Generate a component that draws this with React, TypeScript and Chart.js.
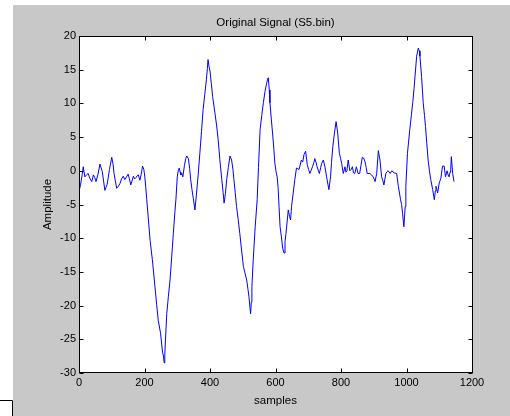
import React, { useEffect, useRef } from "react";
import { Chart, registerables } from "chart.js";

Chart.register(...registerables);

const titleText = "Original Signal (S5.bin)";
const xLabel = "samples";
const yLabel = "Amplitude";

const xMin = 0;
const xMax = 1200;
const xStep = 200;
const yMin = -30;
const yMax = 20;
const yStep = 5;

// sample index
const sampleIdx = [
  0, 5, 10, 13, 18, 23, 28, 33, 39, 44, 48, 52, 58, 64, 71, 75, 79, 86, 93, 100,
  104, 107, 111, 115, 120, 125, 130, 135, 140, 145, 150, 154, 158, 162, 166, 170, 174, 178, 181, 186,
  190, 194, 198, 201, 204, 207, 212, 217, 224, 232, 237, 242, 249, 255, 258, 260, 262, 264, 268, 273,
  278, 283, 288, 293, 296, 300, 303, 306, 309, 311, 314, 317, 322, 326, 329, 334, 338, 341, 345, 349,
  354, 359, 364, 369, 374, 379, 384, 389, 392, 394, 397, 400, 404, 408, 415, 420, 425, 430, 436, 440,
  443, 447, 451, 456, 461, 466, 470, 473, 477, 481, 486, 491, 496, 502, 507, 512, 516, 519, 522, 524,
  526, 528, 532, 538, 544, 548, 553, 558, 563, 568, 573, 576, 578, 581, 583, 587, 591, 595, 598, 602,
  605, 608, 611, 614, 618, 622, 626, 629, 632, 636, 639, 643, 646, 649, 654, 659, 664, 668, 672, 679,
  683, 687, 692, 697, 701, 705, 709, 713, 717, 720, 724, 727, 731, 734, 738, 741, 746, 751, 756, 760,
  763, 768, 771, 775, 780, 785, 790, 795, 799, 802, 807, 812, 815, 818, 822, 827, 831, 835, 838, 842,
  847, 852, 857, 861, 865, 869, 873, 877, 880, 888, 893, 898, 901, 904, 909, 914, 919, 924, 928, 931,
  937, 941, 944, 950, 955, 962, 970, 975, 982, 985, 988, 992, 996, 998, 1003, 1010, 1015, 1019, 1023, 1026,
  1031, 1036, 1039, 1041, 1046, 1051, 1055, 1058, 1062, 1066, 1070, 1074, 1080, 1085, 1088, 1090, 1093, 1095, 1100, 1105,
  1110, 1115, 1119, 1122, 1124, 1127, 1130, 1133, 1135, 1137, 1141, 1145,
];

// amplitude
const amplitude = [
  -3.1, -2.0, -0.5, 0.6, -0.9, -0.6, -0.4, -1.1, -1.6, -0.6, -1.0, -1.6, -0.5, 1.0, -0.1, -1.5, -2.9, -2.0, 0.2, 2.0,
  1.0, -0.4, -1.5, -2.6, -2.3, -1.9, -1.2, -0.8, -1.3, -0.9, -0.5, -1.2, -2.1, -1.5, -0.8, -1.2, -1.0, -0.7, -0.6, -1.4,
  -0.5, 0.7, 0.2, -0.9, -2.5, -4.3, -7.3, -10.3, -13.2, -17.2, -19.8, -22.2, -24.1, -26.9, -27.5, -28.5, -27.3, -25.1, -21.2, -18.6,
  -16.2, -12.8, -9.3, -6.0, -4.2, -0.9, 0.0, 0.4, -0.2, -0.6, -0.4, -0.9, 0.8, 1.8, 2.2, 1.8, 0.3, -1.3, -2.8, -4.1,
  -5.8, -3.3, -0.5, 2.6, 5.8, 9.1, 11.3, 13.5, 15.2, 16.5, 15.5, 14.8, 13.0, 11.0, 8.6, 6.8, 4.6, 1.7, -1.3, -3.2,
  -4.8, -3.4, -1.3, 0.5, 2.2, 1.6, 0.2, -1.3, -3.2, -5.3, -7.2, -9.3, -11.6, -14.2, -15.2, -16.2, -17.6, -18.7, -20.3, -21.2,
  -19.5, -17.2, -13.2, -8.3, -4.3, 0.5, 6.1, 8.2, 10.1, 11.8, 13.0, 13.6, 13.8, 12.0, 10.1, 7.8, 5.6, 3.2, 1.1, -0.2,
  -0.9, -2.5, -5.5, -8.3, -9.8, -11.5, -12.2, -10.5, -9.3, -7.3, -5.8, -6.8, -7.3, -5.3, -3.3, -1.3, 0.4, 0.3, 0.2, 1.6,
  1.3, 2.4, 2.9, 0.9, 0.2, -0.4, 0.1, 0.6, 1.2, 1.8, 1.2, 0.6, 0.0, -0.4, 0.5, 1.1, 1.6, 0.6, -0.9, -2.0,
  -2.8, -0.9, 1.2, 3.6, 5.6, 7.3, 5.6, 2.6, 1.8, 1.1, -0.4, 0.6, -0.2, 0.0, 1.6, 0.0, 0.2, 0.6, -0.3, -0.4,
  0.6, -0.4, -0.4, 0.8, 2.0, 1.9, 1.4, 0.5, -0.4, -0.4, -0.6, -0.9, -1.2, -1.6, -0.4, 3.0, 1.6, -0.9, -1.5, -2.1,
  -0.4, -0.1, 0.0, -0.4, 0.0, -0.3, -0.4, -2.3, -4.3, -5.0, -6.3, -8.3, -5.3, -2.3, 2.6, 6.1, 8.3, 10.1, 12.2, 14.0,
  17.0, 18.2, 17.8, 17.0, 14.0, 10.1, 8.2, 6.6, 4.0, 1.6, 0.0, -1.3, -2.8, -4.3, -3.0, -2.3, -2.8, -3.3, -1.8, -1.1,
  0.7, 0.7, -0.9, -0.3, 0.0, -0.6, -0.9, -0.2, 0.2, 2.1, -0.4, -1.6,
];

const FONT_FAMILY = "'Liberation Sans', Arial, Helvetica, sans-serif";
const FIG_GRAY = "#c8c8c8";
const TEXT = "#000000";
const LINE_BLUE = "#0000ff";

const matlabPlugin = {
  id: "matlabFrame",
  beforeDraw(chart: any) {
    const { ctx, width, height, chartArea } = chart;
    ctx.save();
    ctx.fillStyle = "#ffffff";
    ctx.fillRect(0, 0, width, height);
    ctx.fillStyle = FIG_GRAY;
    ctx.fillRect(13, 5, width - 13, height - 5);
    ctx.fillStyle = "#ffffff";
    ctx.fillRect(chartArea.left, chartArea.top, chartArea.right - chartArea.left, chartArea.bottom - chartArea.top);
    ctx.strokeStyle = "#000000";
    ctx.lineWidth = 1;
    ctx.beginPath();
    ctx.moveTo(0, 400.5);
    ctx.lineTo(12.5, 400.5);
    ctx.lineTo(12.5, height);
    ctx.stroke();
    ctx.restore();
  },
  afterDatasetsDraw(chart: any) {
    const { ctx, chartArea, scales } = chart;
    const l = Math.round(chartArea.left) + 0.5;
    const r = Math.round(chartArea.right) + 0.5;
    const t = Math.round(chartArea.top) + 0.5;
    const b = Math.round(chartArea.bottom) - 0.5;
    const len = 4;
    ctx.save();
    ctx.strokeStyle = "#000000";
    ctx.lineWidth = 1;
    ctx.beginPath();
    scales.x.ticks.forEach((tk: any) => {
      const px = Math.round(scales.x.getPixelForValue(tk.value)) + 0.5;
      ctx.moveTo(px, b);
      ctx.lineTo(px, b - len);
      ctx.moveTo(px, t);
      ctx.lineTo(px, t + len);
    });
    scales.y.ticks.forEach((tk: any) => {
      const py = Math.round(scales.y.getPixelForValue(tk.value)) + 0.5;
      ctx.moveTo(l, py);
      ctx.lineTo(l + len, py);
      ctx.moveTo(r, py);
      ctx.lineTo(r - len, py);
    });
    ctx.stroke();
    ctx.strokeRect(l, t, r - l, b - t);
    ctx.restore();
  },
};

export default function App() {
  const canvasRef = useRef<HTMLCanvasElement | null>(null);

  useEffect(() => {
    const canvas = canvasRef.current;
    if (!canvas) return;
    const font = { family: FONT_FAMILY, size: 11, weight: "normal" as const, lineHeight: 1.2 };
    const labelFont = { family: FONT_FAMILY, size: 11.5, weight: "normal" as const, lineHeight: 1.2 };
    const chart = new Chart(canvas, {
      type: "line",
      data: {
        datasets: [
          {
            data: sampleIdx.map((s, i) => ({ x: s, y: amplitude[i] })),
            borderColor: LINE_BLUE,
            borderWidth: 1,
            pointRadius: 0,
            tension: 0,
            fill: false,
          },
        ],
      },
      options: {
        animation: false,
        responsive: false,
        devicePixelRatio: 1,
        layout: { padding: { left: 0, right: 38, top: 0, bottom: 0 } },
        plugins: {
          legend: { display: false },
          tooltip: { enabled: false },
          title: {
            display: true,
            text: titleText,
            color: TEXT,
            font: labelFont,
            fullSize: false,
            padding: { top: 16, bottom: 6.2 },
          },
        },
        scales: {
          x: {
            type: "linear",
            min: xMin,
            max: xMax,
            ticks: {
              stepSize: xStep,
              color: TEXT,
              font,
              padding: 3,
              maxRotation: 0,
              callback: (v: any) => String(v),
            },
            grid: { display: false, drawTicks: false },
            border: { display: false },
            title: { display: true, text: xLabel, color: TEXT, font: labelFont, padding: { top: 0, bottom: 8.1 } },
            afterFit: (s: any) => {
              s.height = 43;
            },
          },
          y: {
            type: "linear",
            min: yMin,
            max: yMax,
            ticks: { stepSize: yStep, color: TEXT, font, padding: 3, callback: (v: any) => String(v) },
            grid: { display: false, drawTicks: false },
            border: { display: false },
            title: { display: true, text: yLabel, color: TEXT, font: labelFont, padding: { top: 41.1, bottom: 0 } },
            afterFit: (s: any) => {
              s.width = 79;
            },
          },
        },
      },
      plugins: [matlabPlugin],
    });
    return () => chart.destroy();
  }, []);

  return (
    <div style={{ position: "fixed", left: 0, top: 0, width: 510, height: 416 }}>
      <canvas ref={canvasRef} width={510} height={416} style={{ width: 510, height: 416, display: "block" }} />
    </div>
  );
}
